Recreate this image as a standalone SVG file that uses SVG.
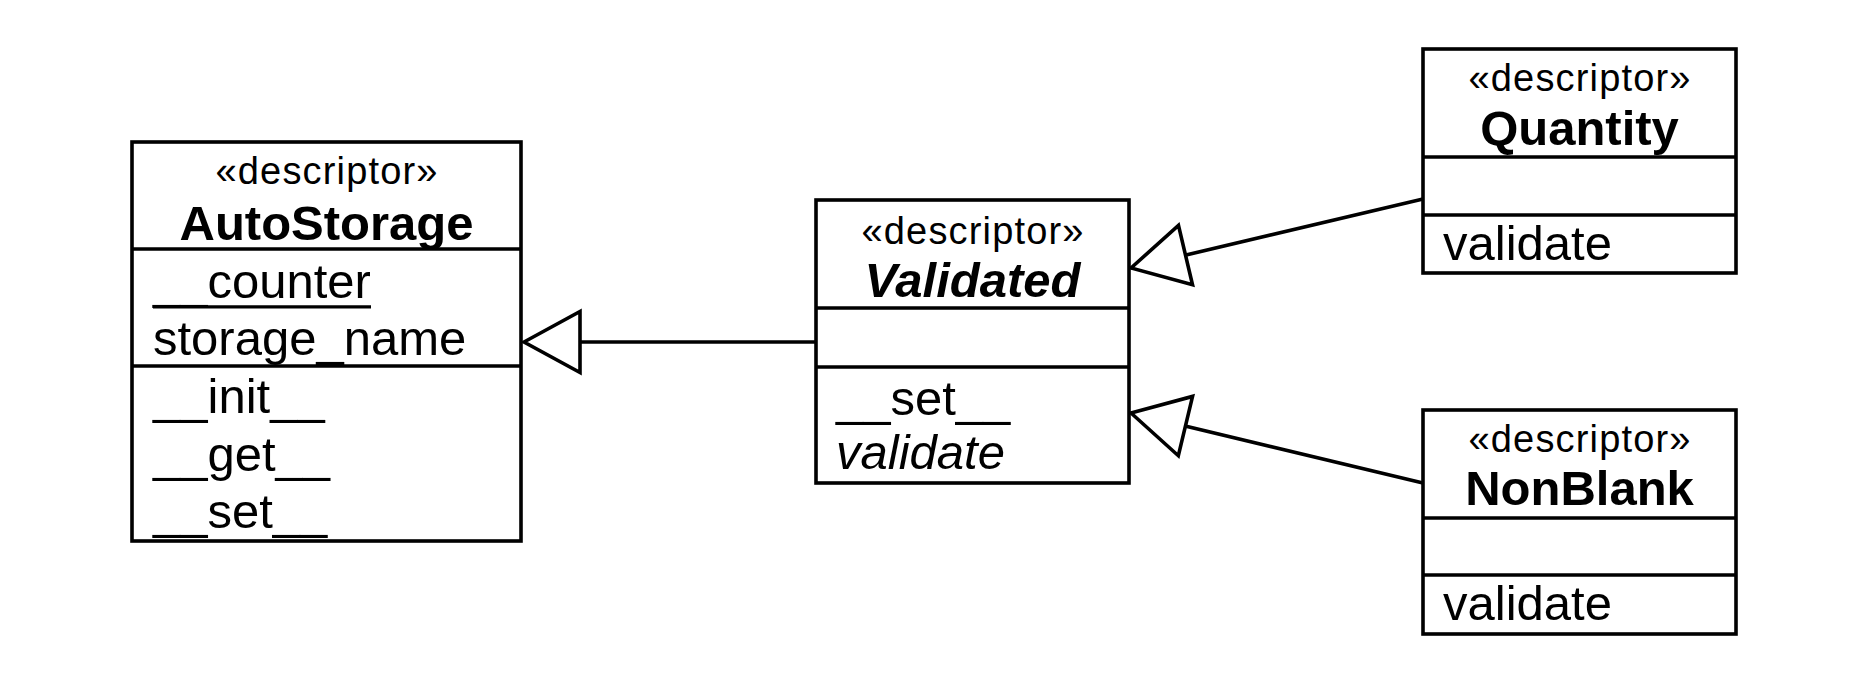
<svg xmlns="http://www.w3.org/2000/svg" width="1870" height="683" viewBox="0 0 1870 683">
<style>
  .box { fill: #ffffff; stroke: #000000; stroke-width: 3.6; }
  .div { stroke: #000000; stroke-width: 3.6; }
  .conn { fill: none; stroke: #000000; stroke-width: 3.6; }
  .st { font-family: "Liberation Sans", Arial, sans-serif; font-size: 38px; text-anchor: middle; fill: #000; }
  .nm { font-family: "Liberation Sans", Arial, sans-serif; font-size: 49px; font-weight: bold; text-anchor: middle; fill: #000; }
  .nmi { font-style: italic; }
  .mb { font-family: "Liberation Sans", Arial, sans-serif; font-size: 49px; fill: #000; }
  .it { font-style: italic; }
  .uline { stroke: #000000; stroke-width: 3.2; }
</style>
<defs>
  <marker id="gen" markerUnits="userSpaceOnUse" markerWidth="80" markerHeight="80" refX="0" refY="0" orient="auto" overflow="visible">
    <path d="M0,0 L56,-30.5 L56,30.5 Z" fill="#ffffff" stroke="#000000" stroke-width="3.6" stroke-linejoin="miter"/>
  </marker>
</defs>
<rect width="1870" height="683" fill="#ffffff"/>

<g id="connectors">
  <path class="conn" d="M524,342 L816,342" marker-start="url(#gen)"/>
  <path class="conn" d="M1131,268 L1423,199" marker-start="url(#gen)"/>
  <path class="conn" d="M1131,413 L1423,483" marker-start="url(#gen)"/>
</g>

<g id="AutoStorage">
  <rect class="box" x="132" y="142" width="389" height="399"/>
  <line class="div" x1="132" y1="249" x2="521" y2="249"/>
  <line class="div" x1="132" y1="366" x2="521" y2="366"/>
  <text class="st" x="326.5" y="184" textLength="222" lengthAdjust="spacing">«descriptor»</text>
  <text class="nm" x="326.5" y="240">AutoStorage</text>
  <text class="mb" x="153" y="298">__counter</text>
  <line class="uline" x1="153" y1="306.8" x2="371" y2="306.8"/>
  <text class="mb" x="153" y="355">storage_name</text>
  <text class="mb" x="153" y="413">__init__</text>
  <text class="mb" x="153" y="471">__get__</text>
  <text class="mb" x="153" y="528">__set__</text>
</g>

<g id="Validated">
  <rect class="box" x="816" y="200" width="313" height="283"/>
  <line class="div" x1="816" y1="308" x2="1129" y2="308"/>
  <line class="div" x1="816" y1="367" x2="1129" y2="367"/>
  <text class="st" x="972.5" y="244" textLength="222" lengthAdjust="spacing">«descriptor»</text>
  <text class="nm nmi" x="972.5" y="297">Validated</text>
  <text class="mb" x="836" y="415">__set__</text>
  <text class="mb it" x="836" y="469">validate</text>
</g>

<g id="Quantity">
  <rect class="box" x="1423" y="49" width="313" height="224"/>
  <line class="div" x1="1423" y1="157" x2="1736" y2="157"/>
  <line class="div" x1="1423" y1="215" x2="1736" y2="215"/>
  <text class="st" x="1579.5" y="91" textLength="222" lengthAdjust="spacing">«descriptor»</text>
  <text class="nm" x="1579.5" y="145">Quantity</text>
  <text class="mb" x="1443" y="260">validate</text>
</g>

<g id="NonBlank">
  <rect class="box" x="1423" y="410" width="313" height="224"/>
  <line class="div" x1="1423" y1="518" x2="1736" y2="518"/>
  <line class="div" x1="1423" y1="575" x2="1736" y2="575"/>
  <text class="st" x="1579.5" y="452" textLength="222" lengthAdjust="spacing">«descriptor»</text>
  <text class="nm" x="1579.5" y="505">NonBlank</text>
  <text class="mb" x="1443" y="620">validate</text>
</g>
</svg>
